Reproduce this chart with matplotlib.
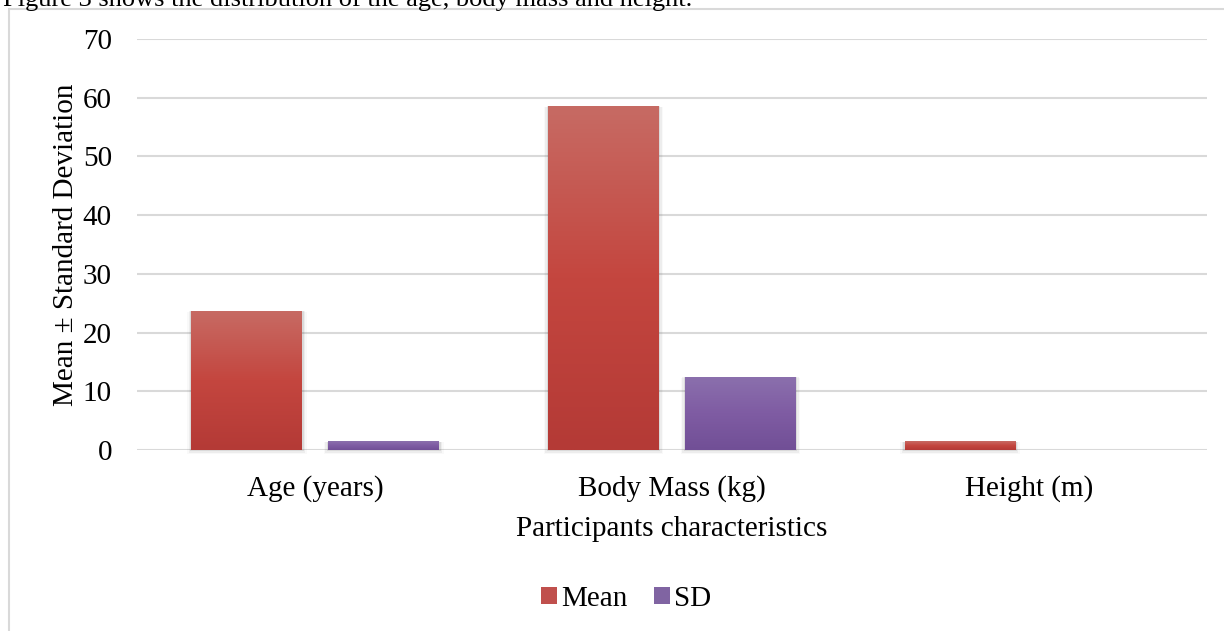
import numpy as np
import matplotlib
matplotlib.use("Agg")
import matplotlib.pyplot as plt
from matplotlib.patches import Rectangle
from matplotlib.colors import LinearSegmentedColormap

categories = ["Age (years)", "Body Mass (kg)", "Height (m)"]
mean_vals = [23.7, 58.6, 1.5]
sd_vals = [1.5, 12.5, 0.07]
series_names = ["Mean", "SD"]
yticks = [0, 10, 20, 30, 40, 50, 60, 70]

plt.rcParams["font.family"] = ["Liberation Serif", "DejaVu Serif"]
FS = 21

fig = plt.figure(figsize=(12.24, 6.31), dpi=100)
ax = fig.add_axes([0.1119, 0.2868, 0.8742, 0.6514])

# vertical gradients for each series (bottom colour -> top colour)
grads = {
    "Mean": LinearSegmentedColormap.from_list("m", ["#b43a36", "#c4463f", "#c76b64"]),
    "SD": LinearSegmentedColormap.from_list("s", ["#714f96", "#7f5ca3", "#8b70ad"]),
}
flat = {"Mean": "#c0504d", "SD": "#8064a2"}

x = np.arange(len(categories))
width = 0.311
gap = 0.073
offsets = [-(width + gap) / 2, (width + gap) / 2]

ramp = np.linspace(0, 1, 256).reshape(-1, 1)
for name, vals, off in zip(series_names, [mean_vals, sd_vals], offsets):
    bars = ax.bar(x + off, vals, width, color=flat[name], label=name, zorder=3)
    for b in bars:
        x0, y0 = b.get_x(), b.get_y()
        w, h = b.get_width(), b.get_height()
        # soft grey drop shadow (skipped for bars too thin to show one)
        if h > 0.5:
            for k, a in enumerate([0.10, 0.06, 0.03]):
                d = 0.004 * (k + 1)
                ax.add_patch(Rectangle((x0 - d, y0 - 0.25 * (k + 1)), w + 2 * d, h + 0.2 * (k + 1),
                                       facecolor="#404040", alpha=a, edgecolor="none", zorder=2,
                                       clip_on=False))
        im = ax.imshow(ramp, cmap=grads[name], aspect="auto", origin="lower",
                       extent=[x0, x0 + w, y0, y0 + h], zorder=4)
        im.set_clip_path(b)

ax.set_xlim(-0.5, 2.5)
ax.set_ylim(0, 70)
ax.set_yticks(yticks)
ax.set_xticks(x)
ax.set_xticklabels(categories)
ax.grid(axis="y", color="#d9d9d9", linewidth=1.5, zorder=0)
ax.set_axisbelow(True)
for s in ax.spines.values():
    s.set_visible(False)
ax.tick_params(axis="both", length=0, labelsize=FS, colors="black")
ax.tick_params(axis="y", pad=18)
ax.tick_params(axis="x", pad=18)

ax.set_ylabel("Mean ± Standard Deviation", fontsize=FS, labelpad=3)
ax.set_xlabel("Participants characteristics", fontsize=FS, labelpad=10)

leg = ax.legend(loc="center", bbox_to_anchor=(0.457, -0.362), ncol=2, frameon=False,
                fontsize=FS, handlelength=0.55, handleheight=0.55, handletextpad=0.15,
                columnspacing=0.9)

# outer chart frame and the sentence above it
fig.patches.append(Rectangle((9 / 1224, -0.1), 1.2, 1 - 9 / 631 + 0.1, transform=fig.transFigure,
                             facecolor="none", edgecolor="#d9d9d9", linewidth=1.5))
fig.text(3 / 1224, 1 + 12 / 631, "Figure 3 shows the distribution of the age, body mass and height.",
         fontsize=19, va="top", ha="left")

fig.savefig("out.png", dpi=100)
